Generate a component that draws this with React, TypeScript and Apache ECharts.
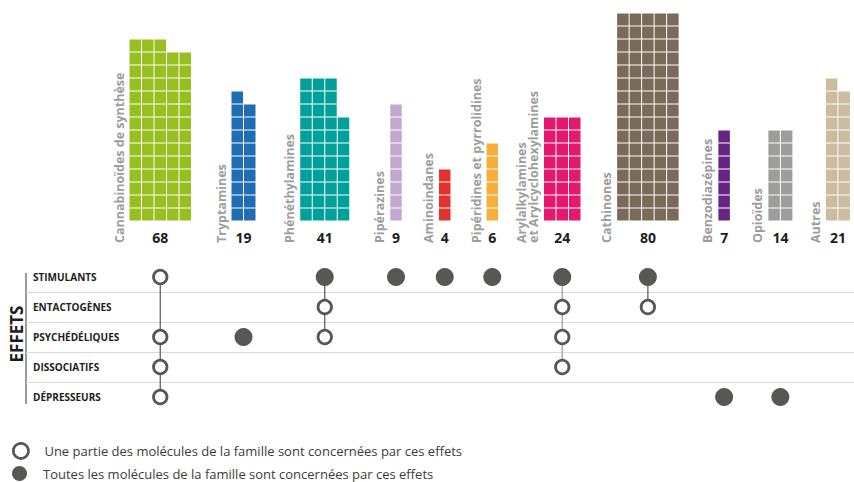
import React, { useEffect, useRef } from "react";
import * as echarts from "echarts";

// ---- data ----
const families = [
  "Cannabinoïdes de synthèse",
  "Tryptamines",
  "Phénéthylamines",
  "Pipérazines",
  "Aminoindanes",
  "Pipéridines et pyrrolidines",
  "Arylalkylamines\net Arylcyclohexylamines",
  "Cathinones",
  "Benzodiazépines",
  "Opioïdes",
  "Autres",
];
const counts = [68, 19, 41, 9, 4, 6, 24, 80, 7, 14, 21];
// number of molecules stacked in each column of each family's block
const columnHeights = [
  [14, 14, 14, 13, 13],
  [10, 9],
  [11, 11, 11, 8],
  [9],
  [4],
  [6],
  [8, 8, 8],
  [16, 16, 16, 16, 16],
  [7],
  [7, 7],
  [11, 10],
];
const effectsTitle = "EFFETS";
const effects = ["STIMULANTS", "ENTACTOGÈNES", "PSYCHÉDÉLIQUES", "DISSOCIATIFS", "DÉPRESSEURS"];
// effect indices per family
const partialEffects = [[0, 2, 3, 4], [], [1, 2], [], [], [], [1, 2, 3], [1], [], [], []];
const fullEffects = [[], [2], [0], [0], [0], [0], [0], [0], [4], [4], []];
const partialName = "Une partie des molécules de la famille sont concernées par ces effets";
const fullName = "Toutes les molécules de la famille sont concernées par ces effets";

// ---- styles / layout ----
const colors = [
  "#97bf1f", "#1f6db3", "#00a19a", "#c3a8d1", "#e3322d", "#f6b03a",
  "#e6186e", "#7a6a58", "#662483", "#9d9d9c", "#cbbb9f",
];
const linkColors = ["#575756", "", "#575756", "", "", "", "#9d9d9c", "#575756", "", "", ""];
const gapBefore = [0, 3.16, 3.5, 3.2, 2.9, 2.8, 3.6, 2.85, 3.1, 3.0, 2.6];
const CELL = 12.5;
const ORIGIN = 129;
const W = 854;
const H = 482;
const FONT = '"Open Sans", "Noto Sans", sans-serif';
const DARK = "#575756";

export default function App() {
  const ref = useRef<HTMLDivElement>(null);
  useEffect(() => {
    if (!ref.current) return;
    const chart = echarts.init(ref.current, undefined, { renderer: "svg" });

    const starts: number[] = [];
    let acc = 0;
    columnHeights.forEach((cols, i) => {
      const s = acc + gapBefore[i];
      starts.push(s);
      acc = s + cols.length;
    });
    const centers = starts.map((s, i) => s + columnHeights[i].length / 2);

    const cells: number[][] = [];
    columnHeights.forEach((cols, i) => {
      cols.forEach((h, c) => {
        for (let r = 0; r < h; r++) cells.push([starts[i] + c, r, i]);
      });
    });
    const labelData = starts.map((s, i) => [s, 0, columnHeights[i].length, i]);

    const partialPts: number[][] = [];
    const fullPts: number[][] = [];
    const links: number[][] = [];
    families.forEach((_, i) => {
      partialEffects[i].forEach((e) => partialPts.push([centers[i], e]));
      fullEffects[i].forEach((e) => fullPts.push([centers[i], e]));
      const all = [...partialEffects[i], ...fullEffects[i]];
      if (all.length > 1) links.push([centers[i], Math.min(...all), Math.max(...all), i]);
    });

    const legendBase = {
      orient: "vertical",
      left: 12,
      padding: 0,
      itemWidth: 15,
      itemHeight: 15,
      selectedMode: false,
      textStyle: { fontFamily: FONT, fontSize: 13, color: "#3c3c3b", padding: [0, 0, 0, 11] },
    };

    const option: any = {
      animation: false,
      backgroundColor: "#ffffff",
      textStyle: { fontFamily: FONT },
      grid: [
        { left: 0, right: 0, top: 13, height: 208, outerBoundsMode: "none", containLabel: false },
        { left: 26, right: 0, top: 262, height: 150, outerBoundsMode: "none", containLabel: false },
      ],
      xAxis: [
        { gridIndex: 0, type: "value", min: -ORIGIN / CELL, max: (W - ORIGIN) / CELL, show: false },
        { gridIndex: 1, type: "value", min: (26 - ORIGIN) / CELL, max: (W - ORIGIN) / CELL, show: false },
      ],
      yAxis: [
        { gridIndex: 0, type: "value", min: 0, max: 16, show: false },
        {
          gridIndex: 1,
          type: "category",
          data: effects,
          inverse: true,
          position: "left",
          axisLine: { show: false, onZero: false },
          axisTick: { show: false },
          axisLabel: {
            inside: true,
            margin: 7,
            fontFamily: FONT,
            fontWeight: "bold",
            fontSize: 10,
            color: "#1d1d1b",
          },
          splitLine: {
            show: true,
            showMinLine: false,
            showMaxLine: false,
            lineStyle: { color: "#dadada", width: 1.2 },
          },
        },
      ],
      graphic: [
        {
          type: "line",
          shape: { x1: 26, y1: 273, x2: 26, y2: 404 },
          style: { stroke: DARK, lineWidth: 1.2 },
        },
        {
          type: "text",
          x: 16,
          y: 334,
          rotation: Math.PI / 2,
          style: {
            text: effectsTitle,
            align: "center",
            verticalAlign: "middle",
            fill: "#1d1d1b",
            fontFamily: FONT,
            fontWeight: "bold",
            fontSize: 17,
          },
        },
      ],
      legend: [
        {
          ...legendBase,
          top: 442,
          data: [
            { name: partialName, icon: "circle", itemStyle: { color: "#fff", borderColor: DARK, borderWidth: 2.8 } },
          ],
        },
        {
          ...legendBase,
          top: 466,
          data: [{ name: fullName, icon: "circle", itemStyle: { color: DARK } }],
        },
      ],
      series: [
        {
          type: "custom",
          name: "cells",
          xAxisIndex: 0,
          yAxisIndex: 0,
          encode: { x: 0, y: 1 },
          data: cells,
          renderItem: (params: any, api: any) => {
            const x = api.value(0);
            const r = api.value(1);
            const fi = api.value(2);
            const p0 = api.coord([x, r]);
            const p1 = api.coord([x + 1, r + 1]);
            return {
              type: "rect",
              shape: { x: p0[0] + 0.5, y: p1[1] + 0.5, width: p1[0] - p0[0] - 1, height: p0[1] - p1[1] - 1 },
              style: { fill: colors[fi] },
            };
          },
        },
        {
          type: "custom",
          name: "labels",
          xAxisIndex: 0,
          yAxisIndex: 0,
          encode: { x: 0, y: 1 },
          data: labelData,
          renderItem: (params: any, api: any) => {
            const x0 = api.value(0);
            const w = api.value(2);
            const fi = api.value(3);
            const pL = api.coord([x0, 0]);
            const pR = api.coord([x0 + w, 0]);
            return {
              type: "group",
              children: [
                {
                  type: "text",
                  x: pL[0] - 4,
                  y: pL[1] + 22,
                  rotation: Math.PI / 2,
                  style: {
                    text: families[fi],
                    align: "left",
                    verticalAlign: "bottom",
                    fill: "#9d9d9c",
                    fontFamily: FONT,
                    fontWeight: "bold",
                    fontSize: 12.5,
                    lineHeight: 12,
                  },
                },
                {
                  type: "text",
                  x: (pL[0] + pR[0]) / 2,
                  y: pL[1] + 16,
                  style: {
                    text: String(counts[fi]),
                    align: "center",
                    verticalAlign: "middle",
                    fill: "#1d1d1b",
                    fontFamily: FONT,
                    fontWeight: "bold",
                    fontSize: 14,
                  },
                },
              ],
            };
          },
        },
        {
          type: "custom",
          name: "links",
          xAxisIndex: 1,
          yAxisIndex: 1,
          encode: { x: 0, y: 1 },
          z: 1,
          data: links,
          renderItem: (params: any, api: any) => {
            const a = api.coord([api.value(0), api.value(1)]);
            const b = api.coord([api.value(0), api.value(2)]);
            return {
              type: "line",
              shape: { x1: a[0], y1: a[1], x2: b[0], y2: b[1] },
              style: { stroke: linkColors[api.value(3)] || DARK, lineWidth: 1.2 },
            };
          },
        },
        {
          type: "scatter",
          name: partialName,
          xAxisIndex: 1,
          yAxisIndex: 1,
          z: 3,
          symbol: "circle",
          symbolSize: 13.5,
          itemStyle: { color: "#fff", borderColor: DARK, borderWidth: 2.8, opacity: 1 },
          data: partialPts,
        },
        {
          type: "scatter",
          name: fullName,
          xAxisIndex: 1,
          yAxisIndex: 1,
          z: 3,
          symbol: "circle",
          symbolSize: 18,
          itemStyle: { color: DARK, opacity: 1 },
          data: fullPts,
        },
      ],
    };
    chart.setOption(option);
    return () => chart.dispose();
  }, []);
  return (
    <div
      ref={ref}
      style={{ position: "absolute", left: 0, top: 0, width: W, height: H, background: "#fff" }}
    />
  );
}
